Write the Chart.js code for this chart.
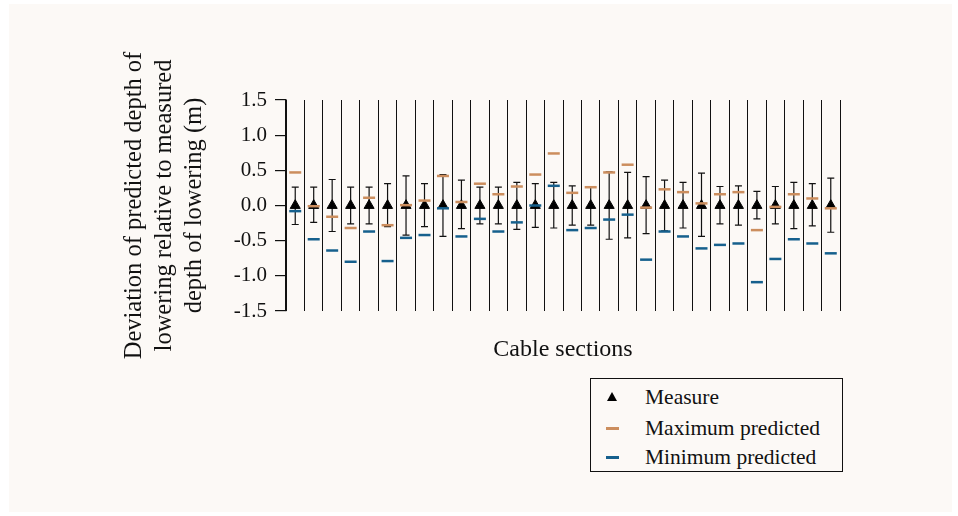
<!DOCTYPE html>
<html>
<head>
<meta charset="utf-8">
<script src="https://cdn.jsdelivr.net/npm/chart.js@4.4.1/dist/chart.umd.min.js"></script>
<style>
  html, body { margin: 0; padding: 0; background: #ffffff; }
  #wrap { position: relative; width: 958px; height: 516px; overflow: hidden; }
  #card { position: absolute; left: 9px; top: 4px; width: 943px; height: 508px; background: #fcf9f6; }
  #plot { position: absolute; left: 0; top: 0; }
  #legend {
    position: absolute; left: 590px; top: 378px; width: 251px; height: 92px;
    border: 1.5px solid #111; background: #fcf9f6;
    font-family: "Liberation Serif", "Times New Roman", serif; font-size: 21.5px; color: #111;
  }
  .row { position: absolute; left: 0; height: 30px; line-height: 30px; }
  .row span { position: absolute; left: 54px; white-space: nowrap; }
  .tri { position: absolute; left: 16px; top: 10px; width: 0; height: 0;
    border-left: 5px solid transparent; border-right: 5px solid transparent; border-bottom: 9px solid #000; }
  .dash { position: absolute; left: 15px; top: 14px; width: 13px; height: 2.5px; }
</style>
</head>
<body>
<div id="wrap">
  <div id="card"></div>
  <canvas id="plot" width="958" height="516"></canvas>
  <div id="legend">
    <div class="row" style="top:3px"><div class="tri"></div><span>Measure</span></div>
    <div class="row" style="top:34px"><div class="dash" style="background:#cc8e5e"></div><span>Maximum predicted</span></div>
    <div class="row" style="top:63px"><div class="dash" style="background:#16608d"></div><span>Minimum predicted</span></div>
  </div>
</div>
<script>
// cable sections 1..30
const sections = Array.from({ length: 30 }, (_, i) => i + 1);

// measured deviation is zero by definition
const measure = [0, 0, 0, 0, 0, 0, 0, 0, 0, 0, 0, 0, 0, 0, 0, 0, 0, 0, 0, 0, 0, 0, 0, 0, 0, 0, 0, 0, 0, 0];

// measurement uncertainty (upper / lower), m
const errUp = [0.26, 0.26, 0.37, 0.26, 0.26, 0.31, 0.42, 0.31, 0.44, 0.36,
               0.26, 0.26, 0.33, 0.31, 0.33, 0.28, 0.26, 0.48, 0.47, 0.41,
               0.36, 0.33, 0.46, 0.27, 0.28, 0.20, 0.27, 0.33, 0.31, 0.39];
const errDown = [0.27, 0.24, 0.37, 0.26, 0.26, 0.30, 0.42, 0.30, 0.44, 0.33,
                 0.26, 0.26, 0.34, 0.31, 0.32, 0.28, 0.28, 0.48, 0.46, 0.40,
                 0.36, 0.32, 0.44, 0.26, 0.28, 0.19, 0.26, 0.33, 0.29, 0.38];

const maxPredicted = [0.47, -0.01, -0.16, -0.32, 0.11, -0.28, 0.005, 0.07, 0.42, 0.05,
                      0.31, 0.16, 0.27, 0.44, 0.74, 0.18, 0.26, 0.47, 0.58, -0.03,
                      0.23, 0.19, 0.03, 0.16, 0.19, -0.35, -0.02, 0.16, 0.10, -0.04];
const minPredicted = [-0.08, -0.48, -0.64, -0.80, -0.37, -0.79, -0.46, -0.42, -0.04, -0.44,
                      -0.19, -0.37, -0.24, 0.00, 0.28, -0.35, -0.32, -0.20, -0.13, -0.77,
                      -0.37, -0.44, -0.61, -0.56, -0.54, -1.09, -0.76, -0.48, -0.54, -0.68];

const yTicks = [-1.5, -1.0, -0.5, 0.0, 0.5, 1.0, 1.5];

const ORANGE = '#cc8e5e';
const BLUE = '#16608d';
const FONT = '"Liberation Serif", "Times New Roman", serif';

const pts = arr => arr.map((v, i) => ({ x: sections[i] - 0.5, y: v }));

// error bars with caps, drawn under the markers
const errorBars = {
    id: 'errorBars',
    beforeDatasetsDraw(chart) {
        const { ctx, scales: { x, y } } = chart;
        ctx.save();
        ctx.strokeStyle = '#111';
        ctx.lineWidth = 1.2;
        measure.forEach((v, i) => {
            const px = x.getPixelForValue(sections[i] - 0.5);
            const top = y.getPixelForValue(v + errUp[i]);
            const bot = y.getPixelForValue(v - errDown[i]);
            ctx.beginPath();
            ctx.moveTo(px, top); ctx.lineTo(px, bot);
            ctx.moveTo(px - 3.5, top); ctx.lineTo(px + 3.5, top);
            ctx.moveTo(px - 3.5, bot); ctx.lineTo(px + 3.5, bot);
            ctx.stroke();
        });
        ctx.restore();
    }
};

new Chart(document.getElementById('plot'), {
    type: 'scatter',
    data: {
        datasets: [
            {
                label: 'Measure',
                data: pts(measure),
                pointStyle: 'triangle',
                pointRadius: 5.8,
                backgroundColor: '#000',
                borderColor: '#000',
                borderWidth: 1,
                order: 3
            },
            {
                label: 'Maximum predicted',
                data: pts(maxPredicted),
                pointStyle: 'line',
                pointRadius: 6,
                borderColor: ORANGE,
                borderWidth: 2.5,
                order: 2
            },
            {
                label: 'Minimum predicted',
                data: pts(minPredicted),
                pointStyle: 'line',
                pointRadius: 6,
                borderColor: BLUE,
                borderWidth: 2.5,
                order: 1
            }
        ]
    },
    options: {
        responsive: false,
        animation: false,
        devicePixelRatio: 1,
        layout: {
            padding: { left: 0, top: 100, right: 118, bottom: 150 }
        },
        scales: {
            x: {
                type: 'linear',
                min: 0,
                max: sections.length,
                afterFit: s => { s.height = 55; },
                ticks: { stepSize: 1, display: false },
                grid: { color: '#111', lineWidth: 1, drawTicks: false },
                border: { display: false },
                title: {
                    display: true,
                    text: 'Cable sections',
                    color: '#111',
                    font: { family: FONT, size: 24 },
                    padding: { top: 0, bottom: 2 }
                }
            },
            y: {
                min: -1.5,
                max: 1.5,
                afterFit: s => { s.width = 286; },
                afterBuildTicks: s => { s.ticks = yTicks.map(v => ({ value: v })); },
                ticks: {
                    color: '#111',
                    padding: 8,
                    font: { family: FONT, size: 21 },
                    callback: v => v.toFixed(1)
                },
                grid: { drawOnChartArea: false, drawTicks: true, tickLength: 11, color: '#111', lineWidth: 1.2 },
                border: { display: true, color: '#111', width: 1.5 },
                title: {
                    display: true,
                    text: ['Deviation of predicted depth of', 'lowering relative to measured', 'depth of lowering (m)'],
                    color: '#111',
                    font: { family: FONT, size: 24.5, lineHeight: '30px' },
                    padding: { top: 120, bottom: 0 }
                }
            }
        },
        plugins: {
            legend: { display: false },
            tooltip: { enabled: false }
        }
    },
    plugins: [errorBars]
});
</script>
</body>
</html>
